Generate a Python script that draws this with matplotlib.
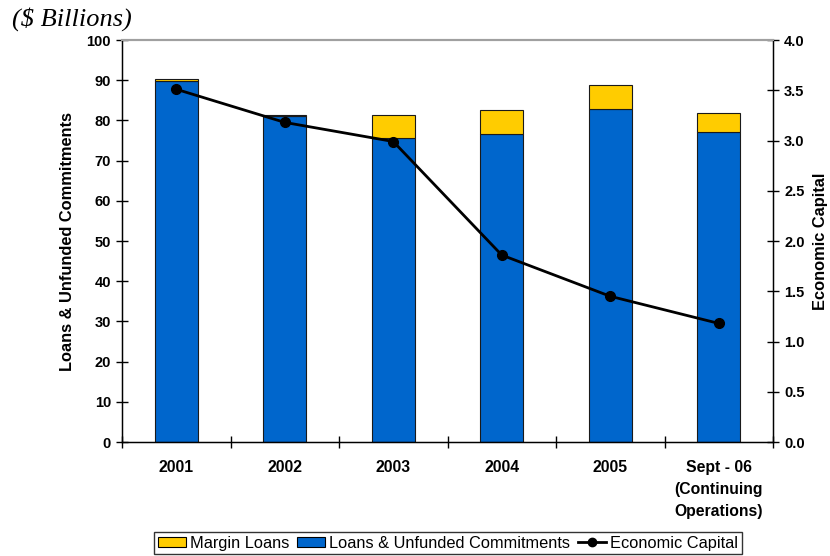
import matplotlib
matplotlib.use('Agg')
import matplotlib.pyplot as plt
from matplotlib.patches import Patch
from matplotlib.lines import Line2D

# Data
years = ["2001", "2002", "2003", "2004", "2005",
         "Sept - 06\n(Continuing\nOperations)"]
loans_unfunded = [89.8, 81.1, 75.6, 76.6, 82.8, 77.0]
margin_loans = [0.6, 0.3, 5.7, 6.1, 6.0, 4.8]
economic_capital = [3.51, 3.18, 2.99, 1.86, 1.45, 1.18]

BLUE = "#0066CC"
YELLOW = "#FFCC00"

plt.rcParams['font.family'] = ['Liberation Sans', 'DejaVu Sans']

fig = plt.figure(figsize=(8.3, 5.56), dpi=100)
ax = fig.add_axes([122 / 830, 1 - 442 / 556, 651 / 830, 402 / 556])

x = list(range(len(years)))
ax.bar(x, loans_unfunded, width=0.4, color=BLUE,
       edgecolor="#1a1a1a", linewidth=0.8, zorder=2)
ax.bar(x, margin_loans, width=0.4, bottom=loans_unfunded, color=YELLOW,
       edgecolor="#1a1a1a", linewidth=0.8, zorder=2)

ax.set_xlim(-0.5, len(years) - 0.5)
ax.set_ylim(0, 100)
ax.set_yticks(range(0, 101, 10))

# Category labels at centres, tick marks at boundaries
ax.set_xticks(x)
ax.set_xticklabels(years, fontsize=11.3, fontweight='bold',
                   va='top', linespacing=1.6)
ax.tick_params(axis='x', which='major', length=0, pad=13)
ax.set_xticks([i + 0.5 for i in range(-1, len(years))], minor=True)
ax.tick_params(axis='x', which='minor', direction='inout', length=8,
               width=1)
ax.tick_params(axis='y', direction='inout', length=8, width=1,
               labelsize=10.5, pad=4)
for lab in ax.get_yticklabels():
    lab.set_fontweight('bold')

ax.set_ylabel("Loans & Unfunded Commitments", fontsize=11.8,
              fontweight='bold', labelpad=8)

for side in ["left", "bottom", "right"]:
    ax.spines[side].set_color("black")
    ax.spines[side].set_linewidth(1)
ax.spines["top"].set_color("#a0a0a0")
ax.spines["top"].set_linewidth(1.5)

# Secondary axis for economic capital
ax2 = ax.twinx()
ax2.plot(x, economic_capital, color="black", linewidth=2,
         marker='o', markersize=7, zorder=3)
ax2.set_ylim(0, 4.0)
ax2.set_yticks([i * 0.5 for i in range(9)])
ax2.set_yticklabels(["%.1f" % (i * 0.5) for i in range(9)])
ax2.tick_params(axis='y', direction='inout', length=8, width=1,
                labelsize=10.5, pad=4)
for lab in ax2.get_yticklabels():
    lab.set_fontweight('bold')
ax2.set_ylabel("Economic Capital", fontsize=11.8, fontweight='bold',
               labelpad=6)
ax2.spines["right"].set_color("black")
ax2.spines["top"].set_color("#a0a0a0")
ax2.spines["top"].set_linewidth(1.5)

fig.text(0.015, 1 - 19 / 556, "($ Billions)", fontsize=19,
         family='Liberation Serif', style='italic', va='center')

handles = [Patch(facecolor=YELLOW, edgecolor="black", linewidth=0.8),
           Patch(facecolor=BLUE, edgecolor="black", linewidth=0.8),
           Line2D([], [], color="black", linewidth=2, marker='o',
                  markersize=6)]
leg = fig.legend(handles, ["Margin Loans", "Loans & Unfunded Commitments",
                           "Economic Capital"],
                 loc='lower center', bbox_to_anchor=(448 / 830, 2 / 556),
                 ncol=3, fontsize=11.8, frameon=True, fancybox=False,
                 edgecolor="black", borderpad=0.2, handlelength=1.7,
                 handleheight=0.56, handletextpad=0.25, columnspacing=0.5,
                 borderaxespad=0)
leg.get_frame().set_linewidth(1)

fig.savefig("out.png", dpi=100)
